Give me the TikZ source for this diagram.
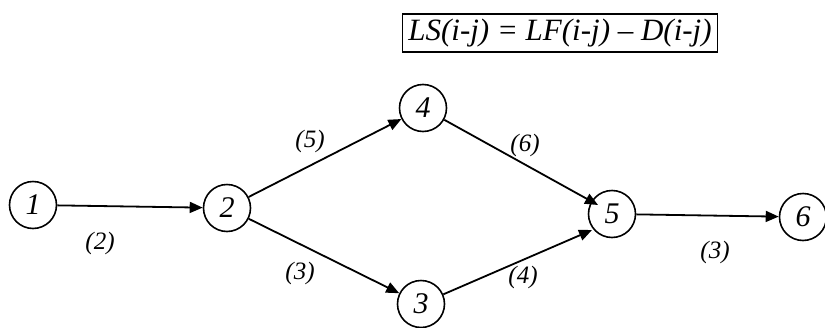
\documentclass[tikz,border=0pt]{standalone}
\usepackage{fontspec}
\setmainfont{Liberation Serif}
\usetikzlibrary{arrows.meta}
\begin{document}
\begin{tikzpicture}[x=1pt,y=-1pt,
  ev/.style={circle,draw,line width=1.6pt,minimum size=47pt,inner sep=0pt,font=\fontsize{30}{32}\selectfont\itshape},
  act/.style={line width=1.8pt,-{Triangle[length=13pt,width=11pt]}},
  dur/.style={font=\fontsize{25}{27}\selectfont\itshape}]
\useasboundingbox (0,0) rectangle (825,327);
\node[ev] (n1) at (33,205) {1};
\node[ev] (n2) at (227,208) {2};
\node[ev] (n4) at (423,108) {4};
\node[ev] (n3) at (421,304) {3};
\node[ev] (n5) at (612,214) {5};
\node[ev] (n6) at (803,217) {6};
\node[draw,line width=1.4pt,inner sep=0pt,minimum width=315pt,minimum height=38pt,font=\fontsize{31}{33}\selectfont\itshape] (f) at (560,33) {LS(i-j) = LF(i-j) -- D(i-j)};
\coordinate (t45) at (598,205);
\coordinate (t35) at (592,230);
\draw[act] (n1) -- (n2);
\draw[act] (n2) -- (n4);
\draw[act] (n2) -- (n3);
\draw[act] (n4) -- (t45);
\draw[act] (n3) -- (t35);
\draw[act] (n5) -- (n6);
\node[dur] (l12) at (100,243) {(2)};
\node[dur] (l24) at (310,141) {(5)};
\node[dur] (l45) at (525,145) {(6)};
\node[dur] (l23) at (300,273) {(3)};
\node[dur] (l35) at (523,277) {(4)};
\node[dur] (l56) at (715,252) {(3)};
\end{tikzpicture}
\end{document}
